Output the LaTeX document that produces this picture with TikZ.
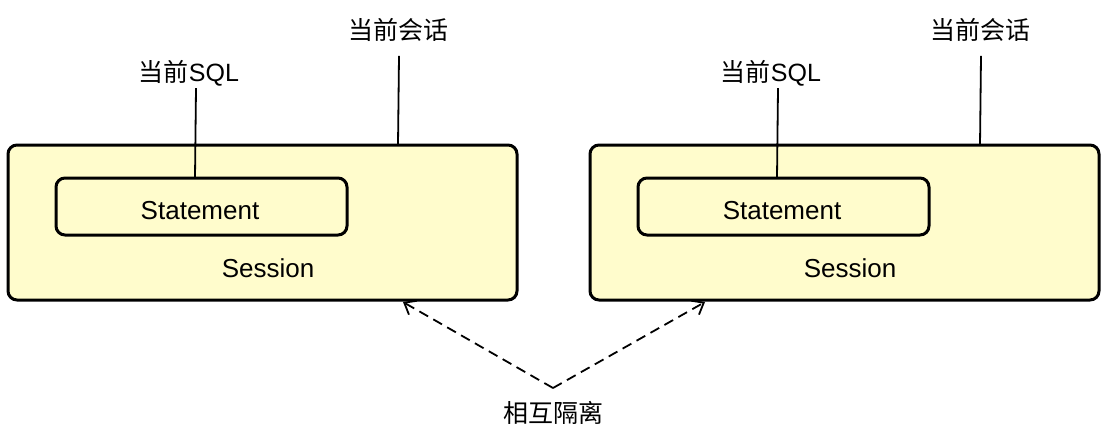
\documentclass[tikz,border=0pt]{standalone}
\usepackage{fontspec}
\setmainfont{Liberation Sans}
\newfontfamily\cjk{Noto Sans CJK SC}
\usetikzlibrary{arrows.meta}
\begin{document}
\begin{tikzpicture}[x=1pt,y=-1pt,
  box/.style={draw,line width=3pt,fill=yellow!20,rounded corners=9pt},
  lbl/.style={font=\fontsize{26}{30}\selectfont},
  cl/.style={font=\cjk\fontsize{25}{30}\selectfont},
  ln/.style={line width=1.8pt},
  dsh/.style={line width=1.8pt,dash pattern=on 10pt off 6pt,-{Straight Barb[length=10pt,width=16pt]}}]
\useasboundingbox (0,0) rectangle (1107,439);
\foreach \d/\n in {0/a,582/b}{
  \draw[box] (8+\d,145) rectangle (517+\d,300);
  \coordinate (out\n) at (398+\d,145);
  \draw[box] (56+\d,178) rectangle (347+\d,235);
  \coordinate (in\n) at (195+\d,178);
  \node[lbl] at (200+\d,211) {Statement};
  \node[lbl] (s\n) at (268+\d,268) {Session};
  \node[cl,inner sep=2pt] (sql\n) at (189+\d,73) {当前\fontspec{Liberation Sans}SQL};
  \node[cl,inner sep=2pt] (cur\n) at (398+\d,30) {当前会话};
  \draw[ln] (sql\n.south -| in\n) ++(1,0) -- (in\n);
  \draw[ln] (cur\n.south) ++(1,12) -- (out\n);
}
\node[cl] (iso) at (553,413) {相互隔离};
\coordinate (v) at (553,388);
\coordinate (ta) at (403,302);
\coordinate (tb) at (705,302);
\draw[dsh] (v) -- (ta);
\draw[dsh] (v) -- (tb);
\end{tikzpicture}
\end{document}
